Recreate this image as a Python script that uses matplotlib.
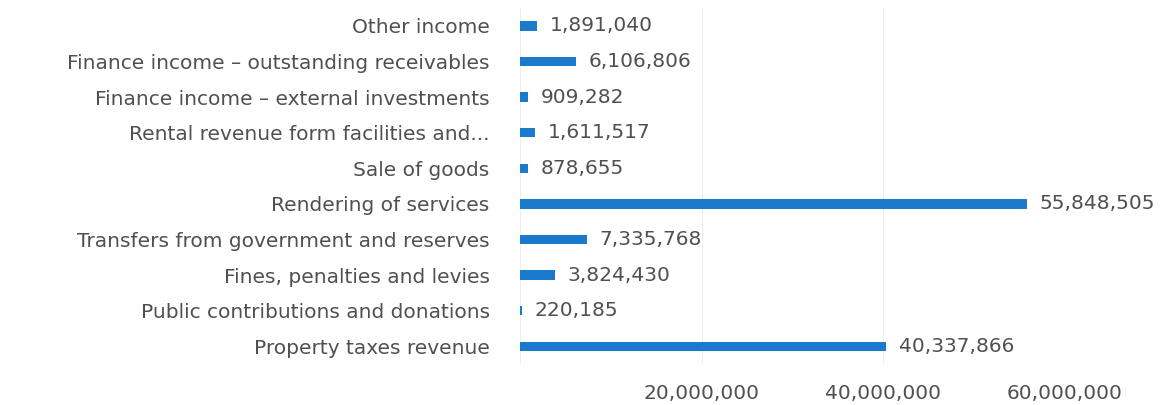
import matplotlib
matplotlib.use("Agg")
import matplotlib.pyplot as plt
from matplotlib.ticker import FuncFormatter

# revenue categories, bottom to top as drawn
categories = [
    "Property taxes revenue",
    "Public contributions and donations",
    "Fines, penalties and levies",
    "Transfers from government and reserves",
    "Rendering of services",
    "Sale of goods",
    "Rental revenue form facilities and...",
    "Finance income \u2013 external investments",
    "Finance income \u2013 outstanding receivables",
    "Other income",
]
values = [40337866, 220185, 3824430, 7335768, 55848505,
          878655, 1611517, 909282, 6106806, 1891040]
x_ticks = [0, 20000000, 40000000, 60000000]

plt.rcParams["font.family"] = ["DejaVu Sans"]
text_col = "#505050"
bar_col = "#1b7acb"
fs = 14.5

fig = plt.figure(figsize=(11.69, 4.05), dpi=100)
ax = fig.add_axes([0.445, 0.101, 0.466, 0.879])

ypos = list(range(len(categories)))
ax.barh(ypos, values, height=0.26, color=bar_col)

ax.set_xlim(0, 60000000)
ax.set_ylim(-0.5, len(categories) - 0.5)

for y, v in zip(ypos, values):
    ax.annotate(f"{v:,}", (v, y), xytext=(9, 0), textcoords="offset points",
                va="center", ha="left", fontsize=fs, color=text_col,
                annotation_clip=False)

ax.set_yticks(ypos)
ax.set_yticklabels(categories, fontsize=fs, color=text_col)
ax.set_xticks(x_ticks)
ax.xaxis.set_major_formatter(FuncFormatter(lambda v, p: f"{int(v):,}" if v else ""))
ax.tick_params(axis="x", labelsize=fs, colors=text_col, length=0, pad=14)
ax.tick_params(axis="y", length=0, pad=22)

ax.grid(axis="x", color="#eeeeee", linewidth=0.8)
ax.set_axisbelow(True)
for s in ax.spines.values():
    s.set_visible(False)

fig.savefig("out.png", dpi=100)
